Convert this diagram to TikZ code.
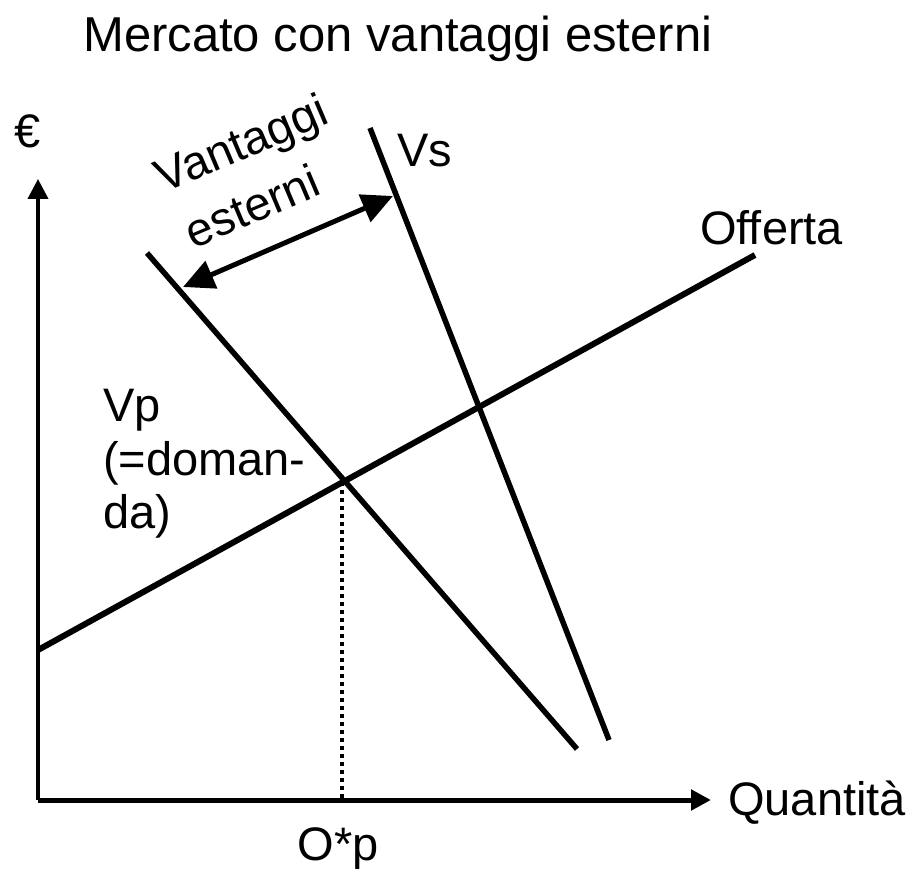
\documentclass[tikz,border=0pt]{standalone}
\usepackage{fontspec}
\setmainfont{Liberation Sans}
\usetikzlibrary{arrows.meta}
\begin{document}
\begin{tikzpicture}[x=1pt,y=-1pt,
  lbl/.style={inner sep=0pt,font=\fontsize{47}{56}\selectfont},
  axis/.style={draw=black,line width=4.5pt},
  curve/.style={draw=black,line width=5.5pt},
  guide/.style={draw=black,line width=3.5pt,dash pattern=on 4pt off 4pt}]
\useasboundingbox[fill=white] (0,0) rectangle (911,869);
% coordinates
\coordinate (O) at (38,800);
\coordinate (ytip) at (38,179);
\coordinate (xtip) at (711,800);
\coordinate (offA) at (38,650);
\coordinate (offB) at (755,255);
\coordinate (vpA) at (147,253);
\coordinate (vpB) at (577,749);
\coordinate (vsA) at (370,128);
\coordinate (vsB) at (609,740);
\coordinate (eq) at (342,482);
\coordinate (eqx) at (342,800);
\coordinate (dl) at (183,287);
\coordinate (dr) at (393,196);
% axes
\draw[axis,line width=4pt,-{Triangle[length=20pt,width=20pt]}] (O) -- (ytip);
\draw[axis,line width=5pt,-{Triangle[length=20pt,width=20pt]}] (O) -- (xtip);
% curves
\draw[curve,line width=6pt] (offA) -- (offB);
\draw[curve] (vpA) -- (vpB);
\draw[curve] (vsA) -- (vsB);
\draw[guide] (eq) -- (eqx);
\draw[line width=5pt,{Triangle[length=31pt,width=29pt]}-{Triangle[length=31pt,width=29pt]}] (dl) -- (dr);
% labels
\node[lbl,anchor=base west,font=\fontsize{49}{58}\selectfont] (title) at (83,52) {Mercato con vantaggi esterni};
\node[lbl] (euro) at (28,131) {€};
\node[lbl,anchor=base west] (quant) at (728,815) {Quantità};
\node[lbl,anchor=base] (ostar) at (338,860) {O*p};
\node[lbl,anchor=base west] (offlab) at (700,245) {Offerta};
\node[lbl,anchor=base west] (vslab) at (397,167) {Vs};
\node[lbl,anchor=base west] (vp1) at (103,421) {Vp};
\node[lbl,anchor=base west] (vp2) at (103,475) {(=doman-};
\node[lbl,anchor=base west] (vp3) at (103,528) {da)};
\node[lbl,rotate=23] (va1) at (243,147) {Vantaggi};
\node[lbl,rotate=23] (va2) at (252,206) {esterni};
\end{tikzpicture}
\end{document}
